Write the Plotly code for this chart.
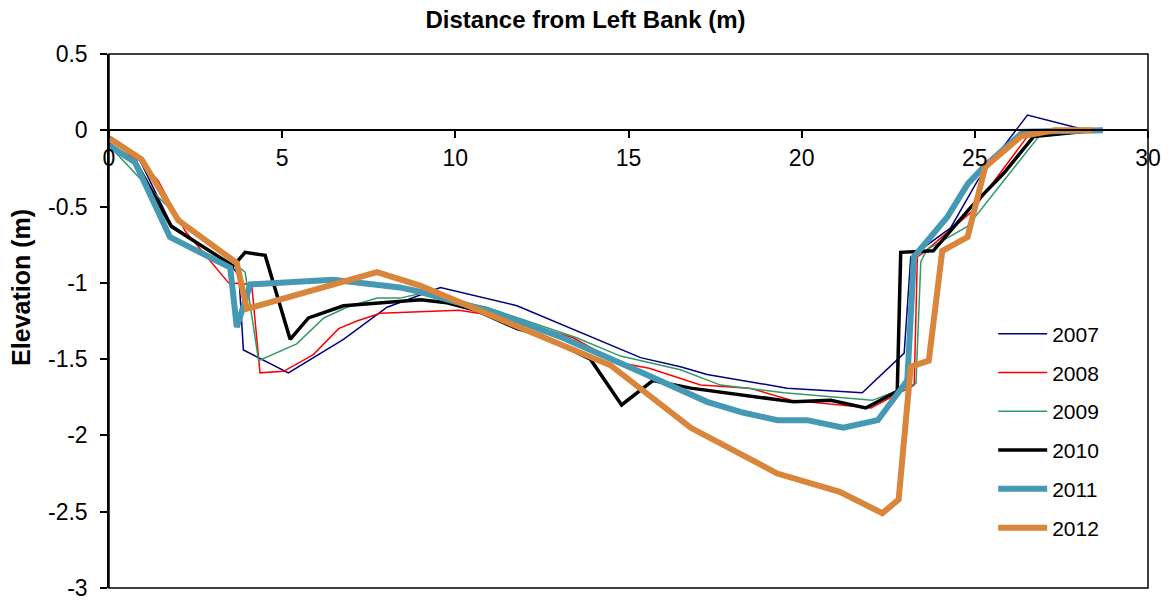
import plotly.graph_objects as go

# ---- data (distance from left bank in m, elevation in m) ----
x2007 = [0, 0.9, 1.8, 3.5, 3.75, 3.88, 5.18, 6.77, 8.03, 9.57, 11.78, 15.35, 16.5, 17.27, 19.58, 21.75, 22.96, 23.15, 24.3, 25.08, 26.52, 28.06, 28.4]
y2007 = [-0.10, -0.20, -0.62, -0.88, -0.95, -1.44, -1.59, -1.37, -1.16, -1.03, -1.15, -1.49, -1.55, -1.60, -1.69, -1.72, -1.46, -0.83, -0.64, -0.33, 0.10, 0.01, 0.0]

x2008 = [0, 0.9, 1.42, 2.2, 3.45, 4.12, 4.36, 5.04, 5.9, 6.63, 7.16, 7.83, 10.1, 11.0, 11.88, 13.4, 14.67, 15.6, 17.08, 18.5, 19.7, 22.0, 23.25, 23.34, 23.53, 24.88, 26.52, 28.6]
y2008 = [-0.10, -0.20, -0.33, -0.66, -1.00, -1.01, -1.59, -1.58, -1.47, -1.30, -1.25, -1.20, -1.18, -1.21, -1.26, -1.36, -1.52, -1.56, -1.67, -1.69, -1.77, -1.82, -1.67, -0.83, -0.80, -0.54, -0.04, 0.0]

x2009 = [0, 1.04, 2.14, 3.93, 4.32, 5.42, 6.2, 6.87, 7.74, 8.4, 9.0, 10.9, 13.5, 14.77, 16.5, 17.66, 19.49, 22.04, 23.3, 23.44, 23.63, 24.79, 26.85, 28.73]
y2009 = [-0.10, -0.35, -0.60, -0.93, -1.51, -1.40, -1.23, -1.16, -1.10, -1.10, -1.07, -1.16, -1.36, -1.48, -1.57, -1.67, -1.72, -1.77, -1.66, -0.86, -0.78, -0.63, -0.04, 0.0]

x2010 = [0, 0.8, 1.8, 3.59, 3.93, 4.51, 5.23, 5.76, 6.77, 8.4, 9.0, 9.76, 10.6, 11.78, 12.45, 13.9, 14.8, 15.7, 16.8, 19.77, 20.84, 21.85, 22.76, 22.86, 23.8, 24.9, 25.84, 26.7, 28.5]
y2010 = [-0.09, -0.22, -0.63, -0.89, -0.80, -0.82, -1.37, -1.23, -1.15, -1.12, -1.11, -1.13, -1.18, -1.30, -1.34, -1.50, -1.80, -1.64, -1.69, -1.78, -1.77, -1.82, -1.71, -0.80, -0.79, -0.50, -0.28, -0.04, 0.0]

x2011 = [0, 0.75, 1.76, 3.5, 3.69, 4.08, 6.47, 8.4, 9.0, 11.2, 12.17, 13.1, 15.3, 16.2, 17.27, 18.3, 19.3, 20.16, 21.2, 22.2, 23.05, 23.24, 24.2, 24.8, 25.26, 26.4, 27.97, 28.7]
y2011 = [-0.10, -0.21, -0.70, -0.90, -1.29, -1.01, -0.98, -1.03, -1.06, -1.20, -1.28, -1.36, -1.58, -1.67, -1.78, -1.85, -1.90, -1.90, -1.95, -1.90, -1.64, -0.83, -0.57, -0.35, -0.24, -0.01, 0.0, 0.0]

x2012 = [0, 0.94, 2.0, 3.69, 3.98, 7.74, 9.0, 14.48, 16.8, 19.3, 21.1, 22.33, 22.8, 23.15, 23.67, 24.06, 24.79, 25.3, 26.33, 27.3, 28.4]
y2012 = [-0.05, -0.19, -0.59, -0.87, -1.17, -0.93, -1.02, -1.54, -1.95, -2.25, -2.37, -2.51, -2.42, -1.55, -1.51, -0.79, -0.70, -0.24, -0.04, 0.0, 0.0]

years = ["2007", "2008", "2009", "2010", "2011", "2012"]
xs = [x2007, x2008, x2009, x2010, x2011, x2012]
ys = [y2007, y2008, y2009, y2010, y2011, y2012]

y_tickvals = [0.5, 0, -0.5, -1, -1.5, -2, -2.5, -3]
y_ticktext = ["0.5", "0", "-0.5", "-1", "-1.5", "-2", "-2.5", "-3"]
x_tickvals = [0, 5, 10, 15, 20, 25, 30]
x_ticktext = ["0", "5", "10", "15", "20", "25", "30"]

# ---- styles ----
colors = ["#000080", "#FF0000", "#339966", "#000000", "#4599B3", "#D9853B"]
widths = [1.5, 1.5, 1.5, 3.5, 6, 6]

FONT = "Liberation Sans, Arial, sans-serif"

fig = go.Figure()
for name, xv, yv, c, w in zip(years, xs, ys, colors, widths):
    fig.add_trace(go.Scatter(x=xv, y=yv, mode="lines", name=name, legendgroup=name,
                             line=dict(color=c, width=w, shape="linear")))

fig.update_layout(
    width=1171, height=602,
    margin=dict(l=109, r=23, t=54, b=14, autoexpand=False),
    paper_bgcolor="white", plot_bgcolor="white",
    font=dict(family=FONT, size=23, color="black"),
    title=dict(text="<b>Distance from Left Bank (m)</b>", x=0.5, xref="container",
               y=1 - 20 / 602, yref="container", yanchor="middle", xanchor="center",
               font=dict(family=FONT, size=24, color="black")),
    xaxis=dict(range=[0, 30], tickvals=x_tickvals, ticktext=x_ticktext,
               showgrid=False, zeroline=False, showline=True, linecolor="black", linewidth=1.5,
               ticks="outside", ticklen=7, tickwidth=1.5, tickcolor="black",
               anchor="free", position=3 / 3.5, side="bottom", automargin=False,
               tickfont=dict(size=23)),
    yaxis=dict(range=[-3, 0.5], tickvals=y_tickvals, ticktext=y_ticktext,
               showgrid=False, zeroline=False, showline=True, linecolor="black", linewidth=1.5,
               ticks="outside", ticklen=7, tickwidth=1.5, tickcolor="black",
               ticklabelstandoff=8, automargin=False,
               tickfont=dict(size=23)),
    legend=dict(x=0.851, y=0.514, xanchor="left", yanchor="top",
                bgcolor="rgba(0,0,0,0)", borderwidth=0, font=dict(size=21),
                tracegroupgap=8.5, itemwidth=49),
    showlegend=True,
)

fig.add_annotation(text="<b>Elevation (m)</b>", textangle=-90, xref="paper", yref="paper",
                   x=0, xshift=-88, y=0.562, xanchor="center", yanchor="middle",
                   showarrow=False, font=dict(family=FONT, size=25, color="black"))

fig.add_shape(type="rect", xref="paper", yref="paper", x0=0, y0=0, x1=1, y1=1,
              line=dict(color="black", width=1.5), fillcolor="rgba(0,0,0,0)", layer="above")

fig.write_html("out.html", config={"displayModeBar": False},
               post_script="document.body.style.margin='0';document.body.style.overflow='hidden';")
